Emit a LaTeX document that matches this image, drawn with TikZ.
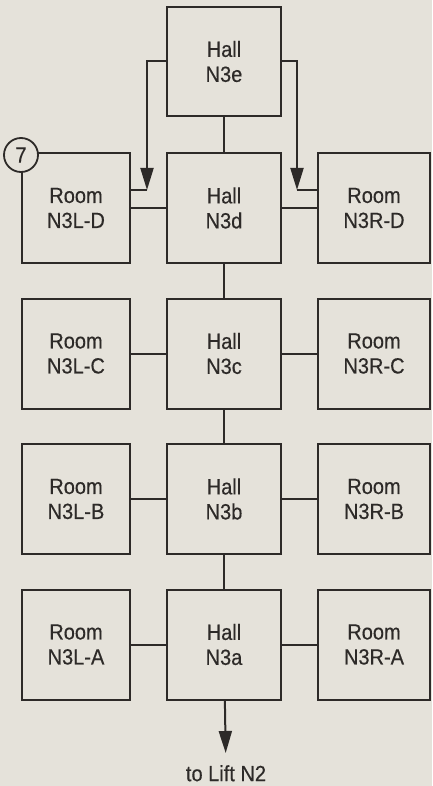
\documentclass[tikz,border=0pt]{standalone}
\usepackage{fontspec}
\usepackage{xcolor}
\usepackage{tikz}
\usetikzlibrary{positioning,arrows.meta}
\newfontfamily\planfont{Liberation Sans}[FakeStretch=0.91, FakeBold=0.4]
\definecolor{paper}{RGB}{229,226,218}
\definecolor{ink}{RGB}{45,42,40}

\tikzset{
  box/.style={draw=ink, line width=2pt, align=center, text=ink,
    font=\planfont\fontsize{22}{25}\selectfont, minimum height=110pt},
  hallbox/.style={box, minimum width=114pt},
  roombox/.style={box, minimum width=110pt},
  link/.style={draw=ink, line width=2pt},
  flow/.style={link, -{Triangle[length=22pt,width=13pt]}},
}

\begin{document}
\begin{tikzpicture}[x=1pt, y=-1pt]
  \fill[paper] (0,0) rectangle (432,786);
  \useasboundingbox (0,0) rectangle (432,786);

  % top hall
  \node[hallbox, minimum height=109pt] (halle) at (224,61.5) {Hall\\N3e};

  % rows of halls and rooms
  \foreach \row/\Row/\ypos in {d/D/208, c/C/353.5, b/B/499, a/A/644.5} {
    \node[hallbox] (hall\row) at (224,\ypos) {Hall\\N3\row};
    \node[roombox, minimum width=108pt] (left\row) at (76,\ypos) {Room\\N3L-\Row};
    \node[roombox, minimum width=112pt] (right\row) at (374,\ypos) {Room\\N3R-\Row};
    \draw[link] (left\row) -- (hall\row);
    \draw[link] (hall\row) -- (right\row);
  }
  \foreach \up/\down in {e/d, d/c, c/b, b/a}
    \draw[link] (hall\up) -- (hall\down);

  % side passages from N3e
  \coordinate (lbend) at (147,190);
  \coordinate (rbend) at (297,190);
  \draw[flow] (halle.west) -| (lbend);
  \draw[link] (lbend) -- (leftd.east |- lbend);
  \draw[flow] (halle.east) -| (rbend);
  \draw[link] (rbend) -- (rightd.west |- rbend);

  % marker
  \node[circle, draw=ink, line width=1.8pt, fill=paper, minimum size=34pt, inner sep=0pt,
    text=ink, font=\planfont\fontsize{22}{25}\selectfont] (tag) at (21,155) {7};

  % exit
  \node[inner sep=0pt, text=ink, font=\planfont\fontsize{22}{25}\selectfont,
    anchor=north] (lift) at (226,765) {to Lift N2};
  \draw[flow, shorten >=12pt] (halla) -- (lift);
\end{tikzpicture}
\end{document}
